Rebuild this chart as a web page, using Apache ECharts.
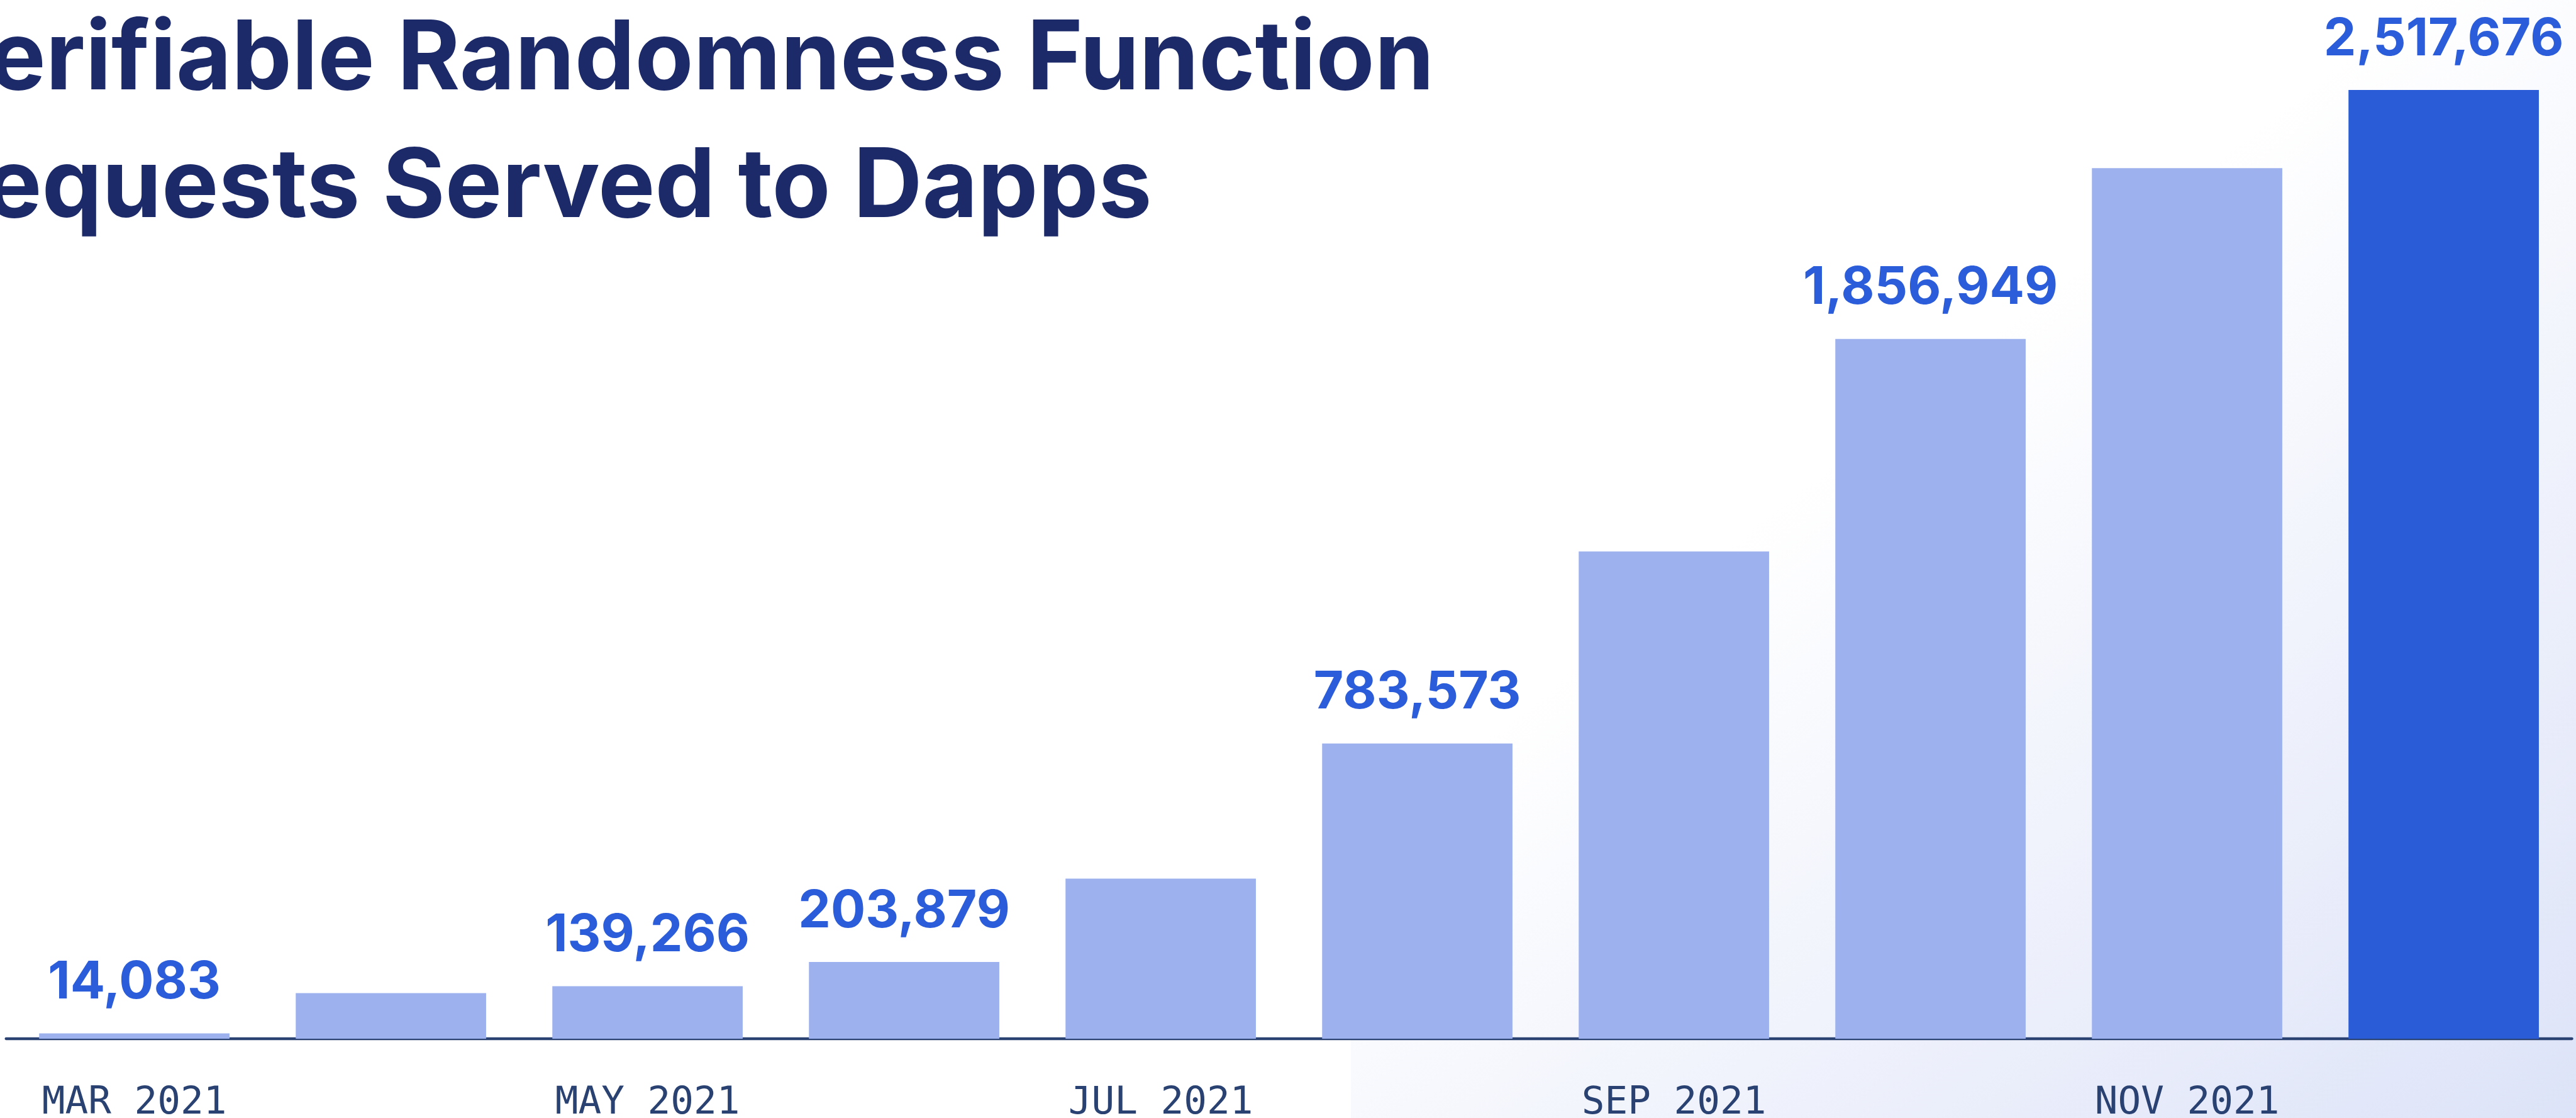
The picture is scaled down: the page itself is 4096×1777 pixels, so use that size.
<!DOCTYPE html>
<html>
<head>
<meta charset="utf-8">
<style>
  html, body { margin: 0; padding: 0; background: #ffffff; }
  #chart { width: 4096px; height: 1777px; }
</style>
<script src="https://cdn.jsdelivr.net/npm/echarts@6/dist/echarts.min.js"></script>
</head>
<body>
<div id="chart"></div>
<script>
// ---- data ----
const titleLines = ['Verifiable Randomness Function', 'Requests Served to Dapps'];
const categories = ['MAR 2021', 'APR 2021', 'MAY 2021', 'JUN 2021', 'JUL 2021', 'AUG 2021', 'SEP 2021', 'OCT 2021', 'NOV 2021', 'DEC 2021'];
const requests = [14083, 121000, 139266, 203879, 425000, 783573, 1293000, 1856949, 2310000, 2517676];
const showValueLabel = [true, false, true, true, false, true, false, true, false, true];
const highlighted = [false, false, false, false, false, false, false, false, false, true];

const W = 4096, H = 1777;
const chart = echarts.init(document.getElementById('chart'), null, { renderer: 'canvas' });

const LIGHT = '#9db1ef';
const DARK = '#2a5cd8';
const NAVY = '#1c2a69';
const AXIS = '#2a4272';

const seriesData = requests.map((v, i) => ({
  value: v,
  itemStyle: { color: highlighted[i] ? DARK : LIGHT },
  label: { show: showValueLabel[i] }
}));

chart.setOption({
  animation: false,
  backgroundColor: '#ffffff',
  grid: {
    left: 9.6, right: W - 4089.6, top: 93.6, bottom: H - 1651,
    containLabel: false,
    outerBoundsMode: 'none'
  },
  xAxis: {
    type: 'category',
    data: categories,
    boundaryGap: true,
    axisLine: { show: true, lineStyle: { color: AXIS, width: 4.3 } },
    axisTick: { show: false },
    axisLabel: {
      interval: 1,
      margin: 73,
      color: AXIS,
      fontFamily: 'DejaVu Sans Mono',
      fontSize: 61,
      fontWeight: 'normal'
    },
    splitLine: { show: false }
  },
  yAxis: {
    type: 'value',
    min: 0,
    max: 2600000,
    show: false,
    splitLine: { show: false }
  },
  series: [{
    type: 'bar',
    data: seriesData,
    barWidth: 302.7,
    z: 5,
    label: {
      position: 'top',
      distance: 39,
      color: '#2b5cd9',
      fontFamily: 'Inter',
      fontWeight: 700,
      fontSize: 82,
      formatter: p => p.value.toLocaleString('en-US')
    }
  }],
  graphic: [
    {
      type: 'rect',
      z: -10,
      silent: true,
      shape: { x: 2148, y: 0, width: W - 2148, height: H },
      style: {
        fill: {
          type: 'linear', global: true,
          x: 3134.5, y: 560.7, x2: 4096, y2: 1777,
          colorStops: [{ offset: 0, color: '#ffffff' }, { offset: 1, color: '#dde3f8' }]
        }
      }
    },
    {
      type: 'text',
      z: 50,
      silent: true,
      left: -122,
      top: -5,
      style: {
        text: titleLines.join('\n'),
        fill: NAVY,
        font: '700 152px Inter',
        lineHeight: 203
      }
    }
  ]
});
</script>
</body>
</html>
